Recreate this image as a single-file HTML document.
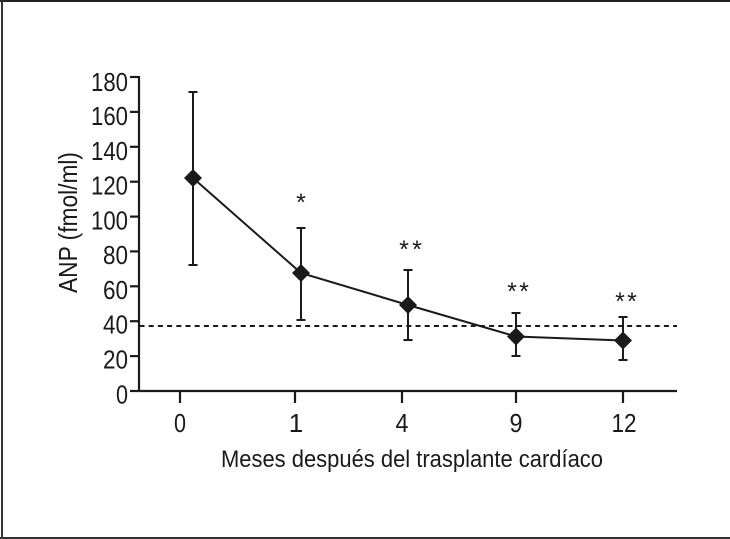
<!DOCTYPE html>
<html>
<head>
<meta charset="utf-8">
<style>
  html, body { margin: 0; padding: 0; background: #fff; }
  body { width: 730px; height: 539px; overflow: hidden; }
  svg { display: block; }
  text { font-family: "Liberation Sans", "DejaVu Sans", sans-serif; fill: #1a1a1a; }
</style>
</head>
<body>
<svg width="730" height="539" viewBox="0 0 730 539" xmlns="http://www.w3.org/2000/svg">
  <rect x="0" y="0" width="730" height="539" fill="#fff"/>
  <!-- frame -->
  <line x1="0" y1="1" x2="730" y2="1" stroke="#222" stroke-width="2"/>
  <line x1="2" y1="0" x2="2" y2="539" stroke="#333" stroke-width="2"/>
  <line x1="0" y1="538" x2="730" y2="538" stroke="#333" stroke-width="2"/>

  <g stroke="#1a1a1a" fill="none">
    <!-- axes -->
    <line x1="139" y1="76" x2="139" y2="392" stroke-width="2.2"/>
    <line x1="138" y1="391" x2="677" y2="391" stroke-width="2.2"/>
    <!-- y ticks -->
    <g stroke-width="2.2">
      <line x1="130" y1="391" x2="139" y2="391"/>
      <line x1="130" y1="356.1" x2="139" y2="356.1"/>
      <line x1="130" y1="321.2" x2="139" y2="321.2"/>
      <line x1="130" y1="286.3" x2="139" y2="286.3"/>
      <line x1="130" y1="251.4" x2="139" y2="251.4"/>
      <line x1="130" y1="216.6" x2="139" y2="216.6"/>
      <line x1="130" y1="181.7" x2="139" y2="181.7"/>
      <line x1="130" y1="146.8" x2="139" y2="146.8"/>
      <line x1="130" y1="111.9" x2="139" y2="111.9"/>
      <line x1="130" y1="77" x2="139" y2="77"/>
    </g>
    <!-- x ticks -->
    <g stroke-width="2.2">
      <line x1="180" y1="391" x2="180" y2="403"/>
      <line x1="295" y1="391" x2="295" y2="403"/>
      <line x1="402" y1="391" x2="402" y2="403"/>
      <line x1="516" y1="391" x2="516" y2="403"/>
      <line x1="623" y1="391" x2="623" y2="403"/>
    </g>
    <!-- dashed reference -->
    <line x1="138" y1="326" x2="677" y2="326" stroke-width="2" stroke-dasharray="5 4.2" stroke-dashoffset="-1.5"/>
    <!-- error bars -->
    <g stroke-width="2">
      <line x1="193" y1="92" x2="193" y2="265"/>
      <line x1="188.5" y1="92" x2="197.5" y2="92"/>
      <line x1="188.5" y1="265" x2="197.5" y2="265"/>

      <line x1="301" y1="228" x2="301" y2="320"/>
      <line x1="296.5" y1="228" x2="305.5" y2="228"/>
      <line x1="296.5" y1="320" x2="305.5" y2="320"/>

      <line x1="408" y1="270" x2="408" y2="340"/>
      <line x1="403.5" y1="270" x2="412.5" y2="270"/>
      <line x1="403.5" y1="340" x2="412.5" y2="340"/>

      <line x1="516" y1="313" x2="516" y2="356"/>
      <line x1="511.5" y1="313" x2="520.5" y2="313"/>
      <line x1="511.5" y1="356" x2="520.5" y2="356"/>

      <line x1="623" y1="317" x2="623" y2="360"/>
      <line x1="618.5" y1="317" x2="627.5" y2="317"/>
      <line x1="618.5" y1="360" x2="627.5" y2="360"/>
    </g>
    <!-- series line -->
    <polyline points="193,178 301,273 408,305 516,336.5 623,340.5" stroke-width="2"/>
  </g>
  <!-- diamonds -->
  <g fill="#1a1a1a">
    <polygon points="193,169 202,178 193,187 184,178"/>
    <polygon points="301,264 310,273 301,282 292,273"/>
    <polygon points="408,296 417,305 408,314 399,305"/>
    <polygon points="516,327.5 525,336.5 516,345.5 507,336.5"/>
    <polygon points="623,331.5 632,340.5 623,349.5 614,340.5"/>
  </g>
  <!-- stars -->
  <g font-size="25" text-anchor="middle">
    <text x="301" y="211">*</text>
    <text x="404" y="258">*</text>
    <text x="417" y="258">*</text>
    <text x="512" y="300">*</text>
    <text x="524" y="300">*</text>
    <text x="620" y="310">*</text>
    <text x="632" y="310">*</text>
  </g>
  <!-- y tick labels -->
  <g font-size="26" text-anchor="end">
    <text x="128" y="403.5" textLength="12" lengthAdjust="spacingAndGlyphs">0</text>
    <text x="128" y="368.5" textLength="25" lengthAdjust="spacingAndGlyphs">20</text>
    <text x="128" y="333.5" textLength="25" lengthAdjust="spacingAndGlyphs">40</text>
    <text x="128" y="299" textLength="25" lengthAdjust="spacingAndGlyphs">60</text>
    <text x="128" y="264" textLength="25" lengthAdjust="spacingAndGlyphs">80</text>
    <text x="128" y="229.5" textLength="37" lengthAdjust="spacingAndGlyphs">100</text>
    <text x="128" y="194.5" textLength="37" lengthAdjust="spacingAndGlyphs">120</text>
    <text x="128" y="160" textLength="37" lengthAdjust="spacingAndGlyphs">140</text>
    <text x="128" y="125" textLength="37" lengthAdjust="spacingAndGlyphs">160</text>
    <text x="128" y="91" textLength="37" lengthAdjust="spacingAndGlyphs">180</text>
  </g>
  <!-- x tick labels -->
  <g font-size="26" text-anchor="middle">
    <text x="180" y="432" textLength="12" lengthAdjust="spacingAndGlyphs">0</text>
    <text x="296" y="432">1</text>
    <text x="402" y="432" textLength="13" lengthAdjust="spacingAndGlyphs">4</text>
    <text x="516" y="432" textLength="13" lengthAdjust="spacingAndGlyphs">9</text>
    <text x="624" y="432" textLength="25" lengthAdjust="spacingAndGlyphs">12</text>
  </g>
  <!-- axis titles -->
  <text x="412" y="467" font-size="24" text-anchor="middle" textLength="382" lengthAdjust="spacingAndGlyphs">Meses después del trasplante cardíaco</text>
  <text transform="translate(77,222.5) rotate(-90)" x="0" y="0" font-size="26" text-anchor="middle" textLength="141" lengthAdjust="spacingAndGlyphs">ANP (fmol/ml)</text>
</svg>
</body>
</html>
